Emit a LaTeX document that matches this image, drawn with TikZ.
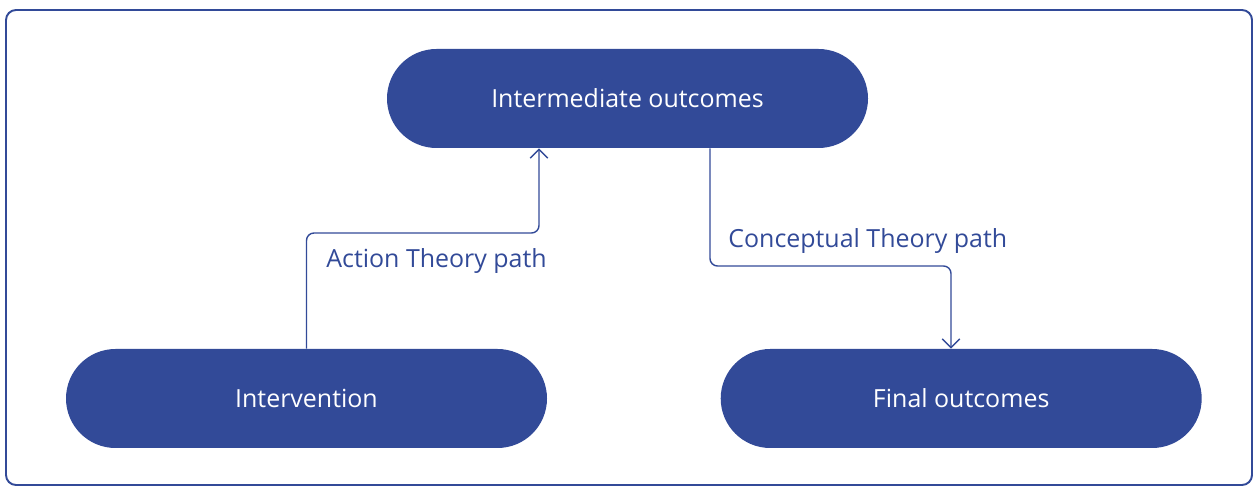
\documentclass[tikz,border=0pt]{standalone}
\usepackage{fontspec}
\setmainfont{Open Sans}
\usepackage{tikz}
\usetikzlibrary{arrows.meta,positioning}
\definecolor{navy}{RGB}{50,74,152}

\begin{document}
\begin{tikzpicture}[
  pill/.style={fill=navy, text=white, rounded corners=0.99cm, minimum width=9.62cm, minimum height=1.98cm, inner sep=0pt, font=\fontsize{14.2}{16}\selectfont},
  arr/.style={-{Straight Barb[length=5pt, width=10pt]}, draw=navy, line width=0.8pt, rounded corners=0.15cm},
  lbl/.style={text=navy, anchor=base west, inner sep=0pt, font=\fontsize{14.2}{16}\selectfont}
]
\useasboundingbox (0,0) rectangle (25.12,9.76);
\draw[navy, line width=1.1pt, rounded corners=0.2cm] (0.12,0.06) rectangle (25.04,9.56);
\node[pill] (inter) at (12.55,7.79) {Intermediate outcomes};
\node[pill] (intv) at (6.13,1.79) {Intervention};
\node[pill, right=3.46cm of intv] (final) {Final outcomes};
% bends of the two paths
\coordinate (bend1) at (10.78,5.10);
\coordinate (bend2a) at (14.20,4.44);
\coordinate (bend2b) at (19.02,4.44);
\draw[arr] (intv.north) |- (bend1) -- (bend1 |- inter.south);
\draw[arr] (bend2a |- inter.south) -- (bend2a) -- (bend2b) -- (bend2b |- final.north);
\node[lbl] (action) at (6.52,4.40) {Action Theory path};
\node[lbl] (concept) at (14.56,4.80) {Conceptual Theory path};
\end{tikzpicture}
\end{document}
